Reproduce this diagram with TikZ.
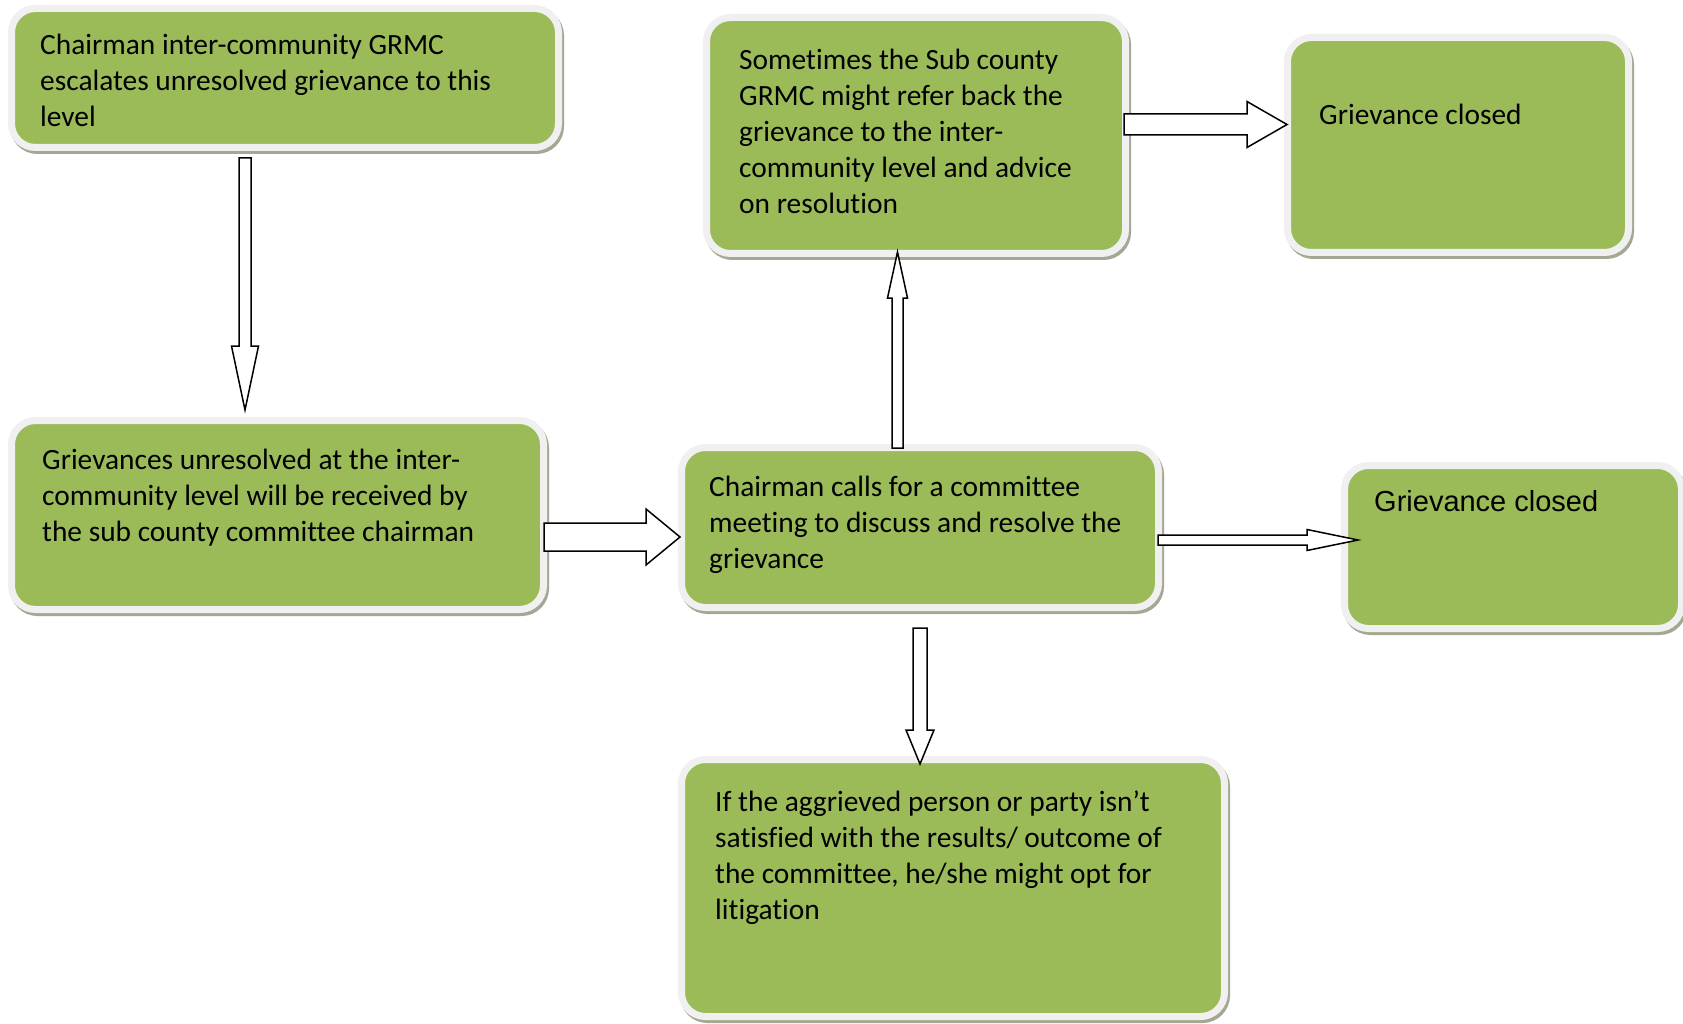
\documentclass[tikz,border=0pt]{standalone}
\usepackage{fontspec}
\setmainfont{Carlito}[Ligatures=NoCommon]
\newfontfamily\arialfont{Liberation Sans}
\usetikzlibrary{calc}
\definecolor{boxgreen}{HTML}{9BBB59}
\definecolor{boxrim}{HTML}{F0F0F0}
\definecolor{boxshade}{HTML}{A3A893}
\tikzset{
gbox/.style={draw=boxrim,line width=7pt,fill=boxgreen,rounded corners=24pt,outer sep=0pt,inner sep=0pt,
  preaction={draw=boxshade,fill=boxshade,line width=7pt,transform canvas={xshift=2pt,yshift=-3pt}}},
gtext/.style={anchor=base west,align=left,inner sep=0pt,font=\fontsize{29.4}{36}\selectfont},
blockarr/.style={draw=black,fill=white,line width=1.5pt,line join=miter}
}
% block arrow: start, end, shaft half width, head half width, head length
\newcommand\blockarrow[5]{%
  \coordinate (ba-s) at #1;
  \coordinate (ba-e) at #2;
  \coordinate (ba-h) at ($(ba-e)!#5!(ba-s)$);
  \draw[blockarr] ($(ba-s)!#3!90:(ba-e)$) -- ($(ba-h)!#3!90:(ba-e)$) -- ($(ba-h)!#4!90:(ba-e)$)
    -- (ba-e) -- ($(ba-h)!#4!-90:(ba-e)$) -- ($(ba-h)!#3!-90:(ba-e)$) -- ($(ba-s)!#3!-90:(ba-e)$) -- cycle;
}

\begin{document}
\begin{tikzpicture}[x=1pt,y=-1pt]
\useasboundingbox (0,0) rectangle (1683,1024);

% boxes
\node[gbox,minimum width=547pt,minimum height=139pt] (c1) at (285,78) {};
\node[gbox,minimum width=532pt,minimum height=189pt] (c2) at (277.5,515) {};
\node[gbox,minimum width=477pt,minimum height=160pt] (c3) at (920,527.5) {};
\node[gbox,minimum width=419pt,minimum height=236pt] (c4) at (916,135.5) {};
\node[gbox,minimum width=341pt,minimum height=215pt] (c5) at (1458,145) {};
\node[gbox,minimum width=337pt,minimum height=163pt] (c6) at (1513,547) {};
\node[gbox,minimum width=543pt,minimum height=257pt] (c7) at (953,888) {};

% texts (base = last line)
\node[gtext] (t1) at (40,127) {Chairman inter-community GRMC\\escalates unresolved grievance to this\\level};
\node[gtext] (t2) at (42,541) {Grievances unresolved at the inter-\\community level will be received by\\the sub county committee chairman};
\node[gtext] (t3) at (709,568) {Chairman calls for a committee\\meeting to discuss and resolve the\\grievance};
\node[gtext] (t4) at (739,214) {Sometimes the Sub county\\GRMC might refer back the\\grievance to the inter-\\community level and advice\\on resolution};
\node[gtext] (t5) at (1319,125) {Grievance closed};
\node[gtext,font=\arialfont\fontsize{29}{35}\selectfont] (t6) at (1374,511.5) {Grievance closed};
\node[gtext] (t7) at (715,919) {If the aggrieved person or party isn’t\\satisfied with the results/ outcome of\\the committee, he/she might opt for\\litigation};

% arrows
\blockarrow{($(c1.south)+(-40,10.5)$)}{($(c2.north)+(-32.5,-10.5)$)}{6pt}{13.5pt}{64pt}
\blockarrow{($(c2.east)+(0.5,22)$)}{($(c3.west)+(-1.5,9.5)$)}{14pt}{28pt}{34pt}
\blockarrow{($(c3.north)+(-22.5,0.5)$)}{($(c4.south)+(-18.5,-1.5)$)}{5.5pt}{10pt}{46pt}
\blockarrow{($(c4.east)+(-1.5,-11)$)}{($(c5.west)+(-0.5,-20.5)$)}{10.5pt}{23pt}{40pt}
\blockarrow{($(c3.east)+(-0.5,12.5)$)}{($(c6.west)+(13.5,-7)$)}{5pt}{10.5pt}{51pt}
\blockarrow{($(c3.south)+(0,20.5)$)}{($(c7.north)+(-33,4.5)$)}{7pt}{14pt}{34pt}
\end{tikzpicture}
\end{document}
